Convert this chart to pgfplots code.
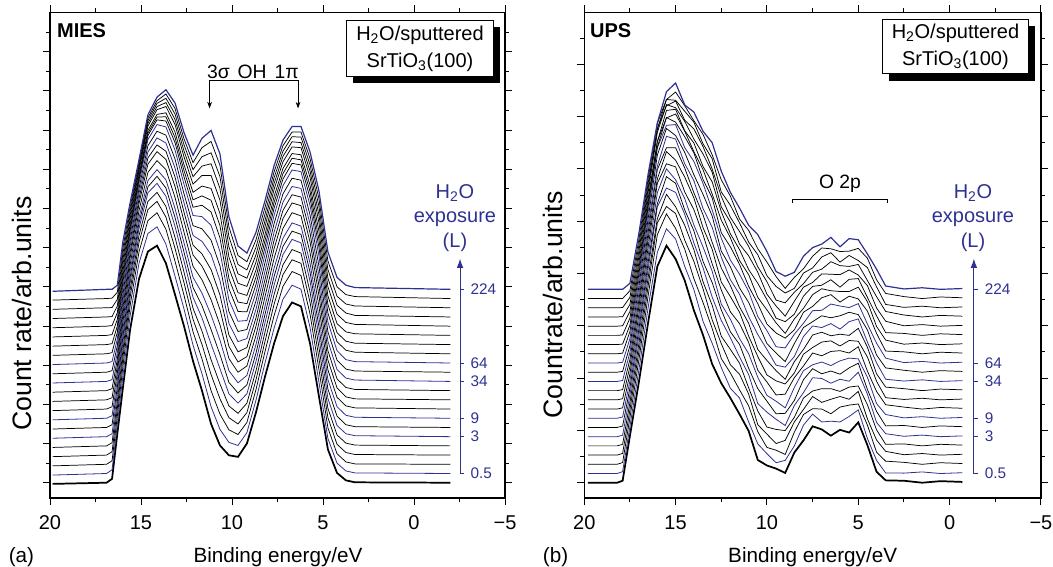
\documentclass[border=0pt]{standalone}
\usepackage{fontspec}
\setmainfont{Liberation Sans}
\usepackage{pgfplots}
\usepackage{pgfplotstable}
\pgfplotsset{compat=1.18}
\usetikzlibrary{arrows.meta}
\definecolor{bl}{RGB}{46,49,146}

% MIES spectra, stacked (column ci = i-th exposure step, offsets included)
\pgfplotstableread{
x c0 c1 c2 c3 c4 c5 c6 c7 c8 c9 c10 c11 c12 c13 c14 c15 c16 c17 c18 c19 c20 c21
19.86 -0.03 0.195 0.43 0.665 0.90 1.135 1.37 1.605 1.84 2.075 2.31 2.545 2.78 3.015 3.25 3.485 3.72 3.955 4.19 4.425 4.66 4.885
16.89 0 0.235 0.47 0.705 0.94 1.175 1.41 1.645 1.88 2.115 2.35 2.585 2.82 3.055 3.29 3.525 3.76 3.995 4.23 4.465 4.70 4.935
16.59 0.10 0.33 0.56 0.79 1.02 1.25 1.48 1.71 1.94 2.17 2.40 2.63 2.86 3.09 3.32 3.55 3.78 4.01 4.24 4.47 4.71 4.935
16.30 1.25 1.49 1.70 1.90 2.08 2.27 2.44 2.62 2.80 2.98 3.15 3.32 3.50 3.67 3.84 4.00 4.17 4.34 4.51 4.68 4.86 5.04
16.00 2.40 2.70 2.94 3.16 3.35 3.54 3.71 3.89 4.08 4.27 4.44 4.60 4.77 4.94 5.10 5.24 5.38 5.54 5.68 5.83 5.98 6.14
15.60 3.90 4.25 4.51 4.73 4.91 5.09 5.23 5.38 5.55 5.73 5.87 6.02 6.16 6.30 6.42 6.51 6.60 6.72 6.82 6.92 7.03 7.14
15.11 5.20 5.60 5.89 6.13 6.31 6.49 6.63 6.76 6.94 7.12 7.25 7.38 7.51 7.64 7.73 7.79 7.85 7.95 8.02 8.09 8.16 8.24
14.62 5.90 6.36 6.69 6.97 7.18 7.40 7.55 7.71 7.92 8.13 8.29 8.44 8.60 8.76 8.86 8.92 8.99 9.10 9.17 9.24 9.31 9.39
14.12 6.05 6.53 6.89 7.18 7.41 7.64 7.82 7.99 8.22 8.45 8.62 8.80 8.97 9.14 9.26 9.33 9.40 9.52 9.60 9.68 9.75 9.84
13.63 5.60 6.09 6.47 6.78 7.05 7.31 7.52 7.73 7.99 8.25 8.46 8.67 8.87 9.08 9.23 9.34 9.44 9.60 9.70 9.81 9.92 10.03
13.13 4.80 5.27 5.65 5.98 6.26 6.54 6.77 7.00 7.28 7.56 7.80 8.03 8.26 8.49 8.68 8.81 8.95 9.14 9.27 9.41 9.55 9.69
12.64 4.00 4.44 4.79 5.11 5.38 5.66 5.89 6.13 6.40 6.68 6.91 7.15 7.38 7.62 7.81 7.97 8.12 8.32 8.47 8.63 8.78 8.94
12.14 3.10 3.51 3.85 4.17 4.45 4.73 4.98 5.24 5.52 5.81 6.06 6.31 6.56 6.82 7.03 7.22 7.41 7.62 7.81 7.99 8.17 8.36
11.65 2.35 2.78 3.16 3.53 3.87 4.21 4.52 4.84 5.18 5.53 5.84 6.16 6.48 6.79 7.08 7.32 7.57 7.84 8.08 8.32 8.55 8.79
11.15 1.50 1.94 2.35 2.76 3.14 3.54 3.91 4.28 4.67 5.07 5.44 5.82 6.19 6.57 6.91 7.21 7.51 7.84 8.14 8.42 8.71 8.99
10.66 0.95 1.36 1.75 2.14 2.52 2.91 3.27 3.64 4.03 4.42 4.79 5.16 5.53 5.90 6.25 6.56 6.87 7.21 7.51 7.81 8.10 8.39
10.17 0.70 1.03 1.35 1.66 1.96 2.27 2.56 2.86 3.17 3.48 3.77 4.07 4.37 4.67 4.95 5.21 5.48 5.76 6.02 6.28 6.53 6.79
9.67 0.66 0.95 1.23 1.50 1.77 2.03 2.29 2.55 2.82 3.08 3.34 3.60 3.86 4.12 4.37 4.61 4.85 5.09 5.33 5.57 5.80 6.04
9.18 1.00 1.28 1.54 1.79 2.03 2.27 2.50 2.74 2.98 3.22 3.45 3.68 3.91 4.14 4.36 4.57 4.78 5.01 5.22 5.43 5.64 5.86
8.68 1.80 2.11 2.38 2.63 2.86 3.10 3.31 3.53 3.76 4.00 4.21 4.43 4.64 4.86 5.06 5.25 5.43 5.63 5.82 6.01 6.20 6.39
8.19 2.70 3.05 3.34 3.60 3.84 4.08 4.29 4.50 4.74 4.97 5.18 5.39 5.61 5.82 6.00 6.17 6.33 6.52 6.68 6.85 7.02 7.19
7.69 3.55 3.94 4.26 4.55 4.80 5.04 5.26 5.47 5.72 5.97 6.18 6.39 6.61 6.82 7.00 7.15 7.30 7.48 7.63 7.78 7.93 8.09
7.20 4.25 4.68 5.01 5.31 5.56 5.82 6.03 6.24 6.49 6.74 6.95 7.16 7.37 7.58 7.75 7.89 8.02 8.19 8.33 8.46 8.60 8.74
6.70 4.60 5.04 5.39 5.69 5.95 6.21 6.42 6.63 6.89 7.14 7.35 7.56 7.77 7.98 8.15 8.28 8.40 8.57 8.70 8.83 8.95 9.09
6.21 4.50 4.94 5.29 5.60 5.86 6.12 6.34 6.55 6.81 7.07 7.29 7.51 7.72 7.94 8.11 8.24 8.37 8.55 8.68 8.82 8.95 9.09
5.71 3.55 3.96 4.30 4.60 4.87 5.14 5.37 5.60 5.87 6.14 6.37 6.60 6.83 7.07 7.26 7.43 7.59 7.79 7.95 8.11 8.27 8.44
5.22 2.20 2.56 2.88 3.17 3.45 3.72 3.97 4.22 4.49 4.77 5.02 5.27 5.52 5.78 6.00 6.20 6.41 6.63 6.83 7.04 7.24 7.44
4.73 0.85 1.13 1.40 1.66 1.90 2.15 2.39 2.63 2.88 3.13 3.37 3.61 3.85 4.10 4.33 4.55 4.77 5.00 5.22 5.44 5.66 5.89
4.23 0.25 0.50 0.74 0.98 1.22 1.46 1.70 1.94 2.18 2.42 2.65 2.89 3.13 3.37 3.60 3.83 4.06 4.30 4.53 4.76 5.00 5.24
3.74 0.06 0.30 0.53 0.77 1.01 1.25 1.48 1.72 1.96 2.19 2.43 2.67 2.90 3.14 3.38 3.61 3.85 4.09 4.33 4.56 4.80 5.04
3.24 0.01 0.25 0.48 0.72 0.96 1.20 1.43 1.67 1.91 2.14 2.38 2.62 2.85 3.09 3.33 3.56 3.80 4.04 4.27 4.51 4.75 4.98
-2.00 0 0.235 0.47 0.705 0.94 1.175 1.41 1.645 1.88 2.115 2.35 2.585 2.82 3.055 3.29 3.525 3.76 3.995 4.23 4.465 4.70 4.935
}\mies

% UPS spectra, same layout
\pgfplotstableread{
x c0 c1 c2 c3 c4 c5 c6 c7 c8 c9 c10 c11 c12 c13 c14 c15 c16 c17 c18 c19 c20 c21
19.8 0 0.235 0.47 0.705 0.94 1.175 1.41 1.645 1.88 2.115 2.35 2.585 2.82 3.055 3.29 3.525 3.76 3.995 4.23 4.465 4.70 4.935
18.2 0 0.235 0.47 0.705 0.94 1.175 1.41 1.645 1.88 2.115 2.35 2.585 2.82 3.055 3.29 3.525 3.76 3.995 4.23 4.465 4.70 4.935
17.9 0.05 0.283 0.515 0.748 0.98 1.213 1.446 1.678 1.911 2.144 2.376 2.609 2.841 3.074 3.307 3.539 3.772 4.005 4.237 4.47 4.702 4.935
17.5 1.20 1.44 1.66 1.86 2.05 2.24 2.42 2.60 2.78 2.97 3.15 3.33 3.50 3.68 3.86 4.02 4.20 4.37 4.55 4.73 4.90 5.09
17.0 2.60 2.91 3.16 3.38 3.58 3.78 3.95 4.13 4.32 4.52 4.69 4.86 5.04 5.21 5.36 5.50 5.64 5.80 5.94 6.09 6.24 6.39
16.5 4.10 4.48 4.78 5.03 5.25 5.46 5.63 5.81 6.02 6.23 6.40 6.57 6.75 6.92 7.06 7.16 7.27 7.42 7.53 7.65 7.77 7.89
16.0 5.52 5.88 6.33 6.63 6.74 7.04 7.12 7.40 7.64 7.75 7.99 8.08 8.36 8.55 8.56 8.71 8.70 8.94 9.04 9.02 9.17 9.18
15.5 6.05 6.48 6.86 7.05 7.36 7.52 7.81 8.01 8.14 8.45 8.55 8.84 9.04 9.12 9.32 9.31 9.50 9.65 9.62 9.78 9.78 9.98
15.0 5.71 6.22 6.49 6.87 7.04 7.41 7.64 7.73 8.06 8.23 8.55 8.77 8.86 9.14 9.20 9.41 9.53 9.57 9.74 9.76 9.97 10.20
14.5 5.16 5.52 5.96 6.19 6.57 6.85 6.96 7.25 7.42 7.80 8.03 8.14 8.43 8.55 8.83 8.97 8.98 9.22 9.25 9.48 9.62 9.64
14.0 4.40 4.93 5.21 5.65 5.95 6.12 6.43 6.58 6.97 7.27 7.40 7.71 7.86 8.20 8.42 8.45 8.67 8.77 9.03 9.20 9.24 9.46
13.5 3.77 4.12 4.60 4.95 5.13 5.49 5.65 6.02 6.33 6.51 6.84 7.00 7.36 7.64 7.74 7.99 8.07 8.39 8.58 8.65 8.89 8.97
13.0 3.03 3.56 3.94 4.16 4.53 4.74 5.11 5.40 5.59 5.96 6.14 6.52 6.81 6.96 7.27 7.37 7.68 7.93 8.01 8.27 8.37 8.68
12.5 2.54 2.94 3.17 3.55 3.74 4.14 4.41 4.56 4.92 5.12 5.48 5.76 5.91 6.24 6.38 6.70 6.92 7.04 7.31 7.42 7.73 7.95
12.0 2.16 2.41 2.80 3.01 3.40 3.70 3.85 4.17 4.36 4.75 5.03 5.18 5.51 5.68 6.02 6.25 6.35 6.65 6.77 7.08 7.31 7.41
11.5 1.75 2.16 2.37 2.77 3.05 3.21 3.53 3.68 4.06 4.35 4.49 4.81 4.97 5.32 5.57 5.67 5.95 6.09 6.41 6.63 6.73 7.01
11.0 1.32 1.55 1.96 2.26 2.42 2.76 2.92 3.29 3.58 3.74 4.07 4.24 4.60 4.88 5.01 5.31 5.44 5.79 6.03 6.14 6.44 6.57
10.5 0.58 0.99 1.30 1.48 1.83 2.02 2.40 2.69 2.87 3.22 3.40 3.78 4.08 4.24 4.57 4.73 5.09 5.37 5.51 5.82 5.97 6.33
10.0 0.44 0.74 0.90 1.24 1.42 1.80 2.08 2.23 2.57 2.75 3.12 3.40 3.55 3.88 4.05 4.41 4.67 4.81 5.13 5.28 5.63 5.90
9.5 0.36 0.51 0.83 1.00 1.36 1.62 1.76 2.08 2.24 2.60 2.86 3.00 3.31 3.47 3.82 4.08 4.20 4.51 4.66 5.01 5.26 5.39
9.0 0.25 0.57 0.72 1.08 1.33 1.46 1.77 1.91 2.26 2.52 2.64 2.95 3.09 3.44 3.69 3.81 4.11 4.25 4.59 4.84 4.96 5.27
8.5 0.77 0.94 1.29 1.55 1.67 1.97 2.10 2.43 2.68 2.80 3.09 3.22 3.55 3.79 3.90 4.18 4.30 4.63 4.86 4.96 5.24 5.37
8.0 1.08 1.47 1.74 1.87 2.16 2.30 2.63 2.86 2.98 3.28 3.40 3.73 3.96 4.07 4.35 4.45 4.76 4.99 5.08 5.35 5.46 5.78
7.5 1.44 1.75 1.89 2.20 2.34 2.68 2.91 3.01 3.31 3.45 3.77 4.00 4.11 4.39 4.50 4.80 5.01 5.11 5.37 5.48 5.78 6.00
7.0 1.36 1.55 1.88 2.05 2.40 2.66 2.78 3.08 3.24 3.59 3.84 3.96 4.26 4.40 4.72 4.95 5.04 5.33 5.45 5.76 5.99 6.09
6.5 1.20 1.57 1.76 2.13 2.40 2.54 2.85 2.99 3.35 3.62 3.75 4.06 4.21 4.56 4.80 4.90 5.18 5.32 5.64 5.87 5.97 6.26
6.0 1.35 1.55 1.93 2.20 2.33 2.64 2.77 3.11 3.37 3.49 3.79 3.92 4.26 4.51 4.61 4.88 4.99 5.31 5.54 5.63 5.90 6.02
5.5 1.28 1.69 1.98 2.13 2.44 2.59 2.93 3.18 3.31 3.63 3.76 4.11 4.35 4.47 4.76 4.88 5.19 5.43 5.52 5.80 5.91 6.23
5.0 1.54 1.86 2.01 2.33 2.47 2.82 3.05 3.16 3.47 3.61 3.94 4.18 4.29 4.57 4.69 4.99 5.21 5.30 5.57 5.67 5.98 6.20
4.5 0.96 1.13 1.47 1.63 1.99 2.26 2.38 2.69 2.85 3.21 3.46 3.59 3.90 4.05 4.38 4.62 4.73 5.03 5.16 5.49 5.73 5.84
4.0 0.28 0.57 0.78 1.09 1.35 1.54 1.82 2.02 2.33 2.59 2.78 3.06 3.26 3.56 3.81 3.99 4.26 4.46 4.75 5.00 5.18 5.45
3.5 0.06 0.25 0.55 0.80 0.98 1.25 1.45 1.74 1.99 2.17 2.44 2.64 2.93 3.18 3.36 3.64 3.83 4.12 4.37 4.55 4.83 5.02
2.5 0.05 0.245 0.52 0.715 0.99 1.185 1.46 1.655 1.93 2.125 2.40 2.595 2.87 3.065 3.34 3.535 3.81 4.005 4.28 4.475 4.75 4.945
1.5 0 0.275 0.47 0.745 0.94 1.215 1.41 1.685 1.88 2.155 2.35 2.625 2.82 3.095 3.29 3.565 3.76 4.035 4.23 4.505 4.70 4.975
0.5 0.04 0.235 0.51 0.705 0.98 1.175 1.45 1.645 1.92 2.115 2.39 2.585 2.86 3.055 3.33 3.525 3.80 3.995 4.27 4.465 4.74 4.935
-0.7 0.02 0.255 0.49 0.725 0.96 1.195 1.43 1.665 1.90 2.135 2.37 2.605 2.84 3.075 3.31 3.545 3.78 4.015 4.25 4.485 4.72 4.955
}\ups

\pgfplotsset{
  kk/.style={black,line width=0.55pt},
  bb/.style={bl,line width=0.6pt},
  sty0/.style={black,line width=1.3pt},
  sty1/.style={bb}, sty2/.style={kk}, sty3/.style={kk}, sty4/.style={kk},
  sty5/.style={bb}, sty6/.style={kk}, sty7/.style={bb}, sty8/.style={kk},
  sty9/.style={kk}, sty10/.style={kk}, sty11/.style={bb}, sty12/.style={kk},
  sty13/.style={bb}, sty14/.style={kk}, sty15/.style={kk}, sty16/.style={kk},
  sty17/.style={kk}, sty18/.style={kk}, sty19/.style={kk}, sty20/.style={kk},
  sty21/.style={bl,line width=0.9pt},
  panel/.style={
    scale only axis, anchor=south west, height=364.125pt,
    x dir=reverse, xmin=-5, xmax=20, ymin=-0.39, ymax=12,
    xtick={20,15,10,5,0,-5}, xticklabels={20,15,10,5,0,−5},
    minor xtick={17.5,12.5,7.5,2.5,-2.5},
    yticklabels={},
    tick align=outside,
    major tick length=5.5pt, minor tick length=3pt,
    axis line style={line width=0.9pt},
    tick style={black,line width=0.7pt},
    xticklabel style={font=\fontsize{15}{15}\selectfont, yshift=-4pt},
    clip=false,
  },
}
\newcommand{\fs}[1]{\fontsize{#1}{#1}\selectfont}

\begin{document}
\begin{tikzpicture}
\path[use as bounding box] (0,0) rectangle (789.75pt,425.25pt);

% (a) MIES
\begin{axis}[panel, at={(37.5pt,51.75pt)}, width=341.25pt,
  ytick={0,...,11}, minor ytick={0.5,1.5,...,11.5}]
\pgfplotsinvokeforeach{0,...,21}{
  \addplot[sty#1] table[x=x, y=c#1] {\mies};
}
\node[anchor=west, inner sep=0, font=\bfseries\fs{15}] at (axis cs:19.62,11.54) {MIES};
\node[fill=black, minimum width=110pt, minimum height=42pt, inner sep=0]
  at ([shift={(4.8pt,-5.2pt)}]axis cs:-0.33,11.08) {};
\node[draw, line width=0.8pt, fill=white, minimum width=110pt, minimum height=42pt,
  inner sep=0, align=center, font=\fontsize{15}{20}\selectfont]
  at (axis cs:-0.33,11.08) {H\textsubscript{2}O/sputtered\\SrTiO\textsubscript{3}(100)};
\node[font=\fs{14.5}] at (axis cs:8.85,10.49) {3σ\hspace{6pt}OH\hspace{6pt}1π};
\draw[line width=0.6pt] (axis cs:11.23,10.27) -- (axis cs:6.37,10.27);
\draw[line width=0.6pt, -{Stealth[length=5pt,width=3.5pt]}] (axis cs:11.23,10.27) -- (axis cs:11.23,9.55);
\draw[line width=0.6pt, -{Stealth[length=5pt,width=3.5pt]}] (axis cs:6.37,10.27) -- (axis cs:6.37,9.55);
% exposure scale
\draw[bl, line width=0.8pt, -{Latex[length=7pt,width=5pt]}] (axis cs:-2.53,0.235) -- (axis cs:-2.53,5.72);
\draw[bl, line width=0.6pt] (axis cs:-2.53,0.235) -- ++(3pt,0pt);
\draw[bl, line width=0.6pt] (axis cs:-2.53,1.175) -- ++(3pt,0pt);
\draw[bl, line width=0.6pt] (axis cs:-2.53,1.645) -- ++(3pt,0pt);
\draw[bl, line width=0.6pt] (axis cs:-2.53,2.585) -- ++(3pt,0pt);
\draw[bl, line width=0.6pt] (axis cs:-2.53,3.055) -- ++(3pt,0pt);
\draw[bl, line width=0.6pt] (axis cs:-2.53,4.935) -- ++(3pt,0pt);
\node[bl, anchor=west, inner sep=0, font=\fs{11.5}] at (axis cs:-3.1,0.235) {0.5};
\node[bl, anchor=west, inner sep=0, font=\fs{11.5}] at (axis cs:-3.1,1.175) {3};
\node[bl, anchor=west, inner sep=0, font=\fs{11.5}] at (axis cs:-3.1,1.645) {9};
\node[bl, anchor=west, inner sep=0, font=\fs{11.5}] at (axis cs:-3.1,2.585) {34};
\node[bl, anchor=west, inner sep=0, font=\fs{11.5}] at (axis cs:-3.1,3.055) {64};
\node[bl, anchor=west, inner sep=0, font=\fs{11.5}] at (axis cs:-3.1,4.935) {224};
\node[bl, align=center, font=\fontsize{15}{18.4}\selectfont] at (axis cs:-2.25,6.76) {H\textsubscript{2}O\\exposure\\(L)};
\end{axis}

% (b) UPS
\begin{axis}[panel, at={(438.2pt,51.75pt)}, width=342.5pt,
  ytick={0,1.335,2.67,4.005,5.34,6.675,8.01,9.345,10.68},
  minor ytick={0.6675,2.0025,3.3375,4.6725,6.0075,7.3425,8.6775,10.0125,11.3475}]
\pgfplotsinvokeforeach{0,...,21}{
  \addplot[sty#1] table[x=x, y=c#1] {\ups};
}
\node[anchor=west, inner sep=0, font=\bfseries\fs{15}] at (axis cs:19.69,11.54) {UPS};
\node[fill=black, minimum width=110pt, minimum height=41pt, inner sep=0]
  at ([shift={(4.8pt,-5.2pt)}]axis cs:-0.32,11.13) {};
\node[draw, line width=0.8pt, fill=white, minimum width=110pt, minimum height=41pt,
  inner sep=0, align=center, font=\fontsize{15}{20}\selectfont]
  at (axis cs:-0.32,11.13) {H\textsubscript{2}O/sputtered\\SrTiO\textsubscript{3}(100)};
\node[font=\fs{14.5}] at (axis cs:6.0,7.63) {O 2p};
\draw[line width=0.6pt] (axis cs:8.59,7.15) -- (axis cs:8.59,7.24) -- (axis cs:3.42,7.24) -- (axis cs:3.42,7.15);
% exposure scale
\draw[bl, line width=0.8pt, -{Latex[length=7pt,width=5pt]}] (axis cs:-1.33,0.235) -- (axis cs:-1.33,5.72);
\draw[bl, line width=0.6pt] (axis cs:-1.33,0.235) -- ++(3pt,0pt);
\draw[bl, line width=0.6pt] (axis cs:-1.33,1.175) -- ++(3pt,0pt);
\draw[bl, line width=0.6pt] (axis cs:-1.33,1.645) -- ++(3pt,0pt);
\draw[bl, line width=0.6pt] (axis cs:-1.33,2.585) -- ++(3pt,0pt);
\draw[bl, line width=0.6pt] (axis cs:-1.33,3.055) -- ++(3pt,0pt);
\draw[bl, line width=0.6pt] (axis cs:-1.33,4.935) -- ++(3pt,0pt);
\node[bl, anchor=west, inner sep=0, font=\fs{11.5}] at (axis cs:-1.92,0.235) {0.5};
\node[bl, anchor=west, inner sep=0, font=\fs{11.5}] at (axis cs:-1.92,1.175) {3};
\node[bl, anchor=west, inner sep=0, font=\fs{11.5}] at (axis cs:-1.92,1.645) {9};
\node[bl, anchor=west, inner sep=0, font=\fs{11.5}] at (axis cs:-1.92,2.585) {34};
\node[bl, anchor=west, inner sep=0, font=\fs{11.5}] at (axis cs:-1.92,3.055) {64};
\node[bl, anchor=west, inner sep=0, font=\fs{11.5}] at (axis cs:-1.92,4.935) {224};
\node[bl, align=center, font=\fontsize{15}{18.4}\selectfont] at (axis cs:-1.28,6.76) {H\textsubscript{2}O\\exposure\\(L)};
\end{axis}

% axis titles and panel letters
\node[font=\fs{15.5}] at (208.5pt,7.5pt) {Binding energy/eV};
\node[font=\fs{15.5}] at (609.5pt,7.5pt) {Binding energy/eV};
\node[anchor=west, inner sep=0, font=\fs{15.5}] at (6.4pt,7.5pt) {(a)};
\node[anchor=west, inner sep=0, font=\fs{15.5}] at (407pt,7.5pt) {(b)};
\node[rotate=90, font=\fs{20}] at (16.5pt,190pt) {Count rate/arb.units};
\node[rotate=90, font=\fs{20}] at (414.75pt,196.5pt) {Countrate/arb.units};
\end{tikzpicture}
\end{document}
